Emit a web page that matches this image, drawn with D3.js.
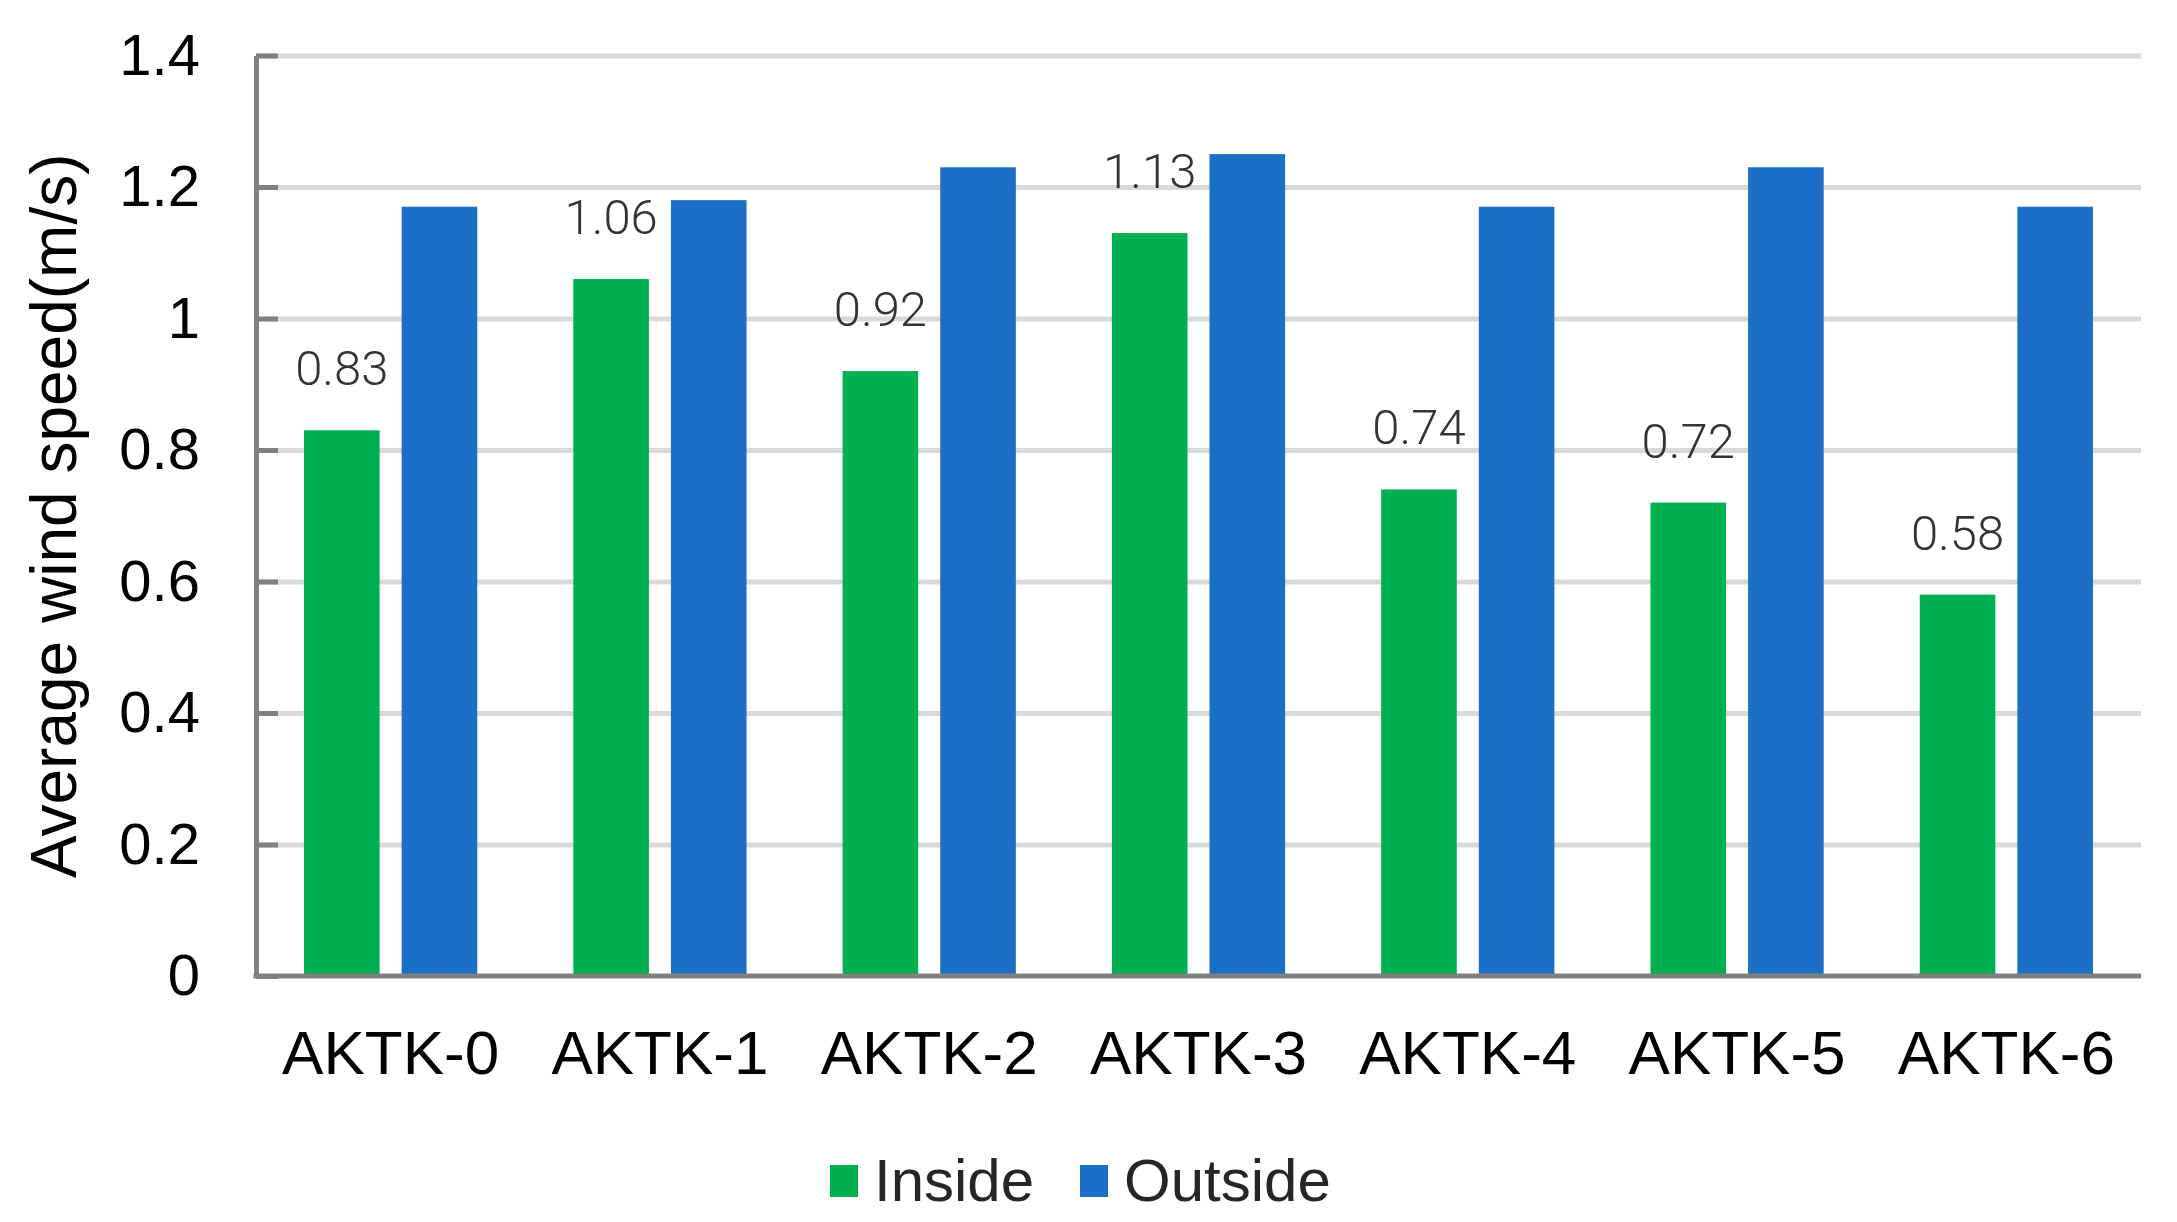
<!DOCTYPE html>
<html>
<head>
<meta charset="utf-8">
<script src="https://cdn.jsdelivr.net/npm/d3@7"></script>
<style>
  html, body { margin: 0; padding: 0; background: #fff; }
  svg { display: block; }
</style>
</head>
<body>
<svg id="chart" width="2177" height="1222"></svg>
<script>
const categories = ["AKTK-0", "AKTK-1", "AKTK-2", "AKTK-3", "AKTK-4", "AKTK-5", "AKTK-6"];
const seriesNames = ["Inside", "Outside"];
const insideValues = [0.83, 1.06, 0.92, 1.13, 0.74, 0.72, 0.58];
const outsideValues = [1.17, 1.18, 1.23, 1.25, 1.17, 1.23, 1.17];
const yTicks = [0, 0.2, 0.4, 0.6, 0.8, 1.0, 1.2, 1.4];
const yTickLabels = ["0", "0.2", "0.4", "0.6", "0.8", "1", "1.2", "1.4"];
const yTitle = "Average wind speed(m/s)";
const colors = { Inside: "#00b050", Outside: "#1c6fc6" };

(function () {
const svg = d3.select("#chart");
const pLeft = 256, pRight = 2141, pTop = 55.5, pBottom = 976;

const x0 = d3.scaleBand().domain(categories).range([pLeft, pRight]).padding(0);
const x1 = d3.scaleBand().domain(seriesNames).range([0, x0.bandwidth()])
  .paddingInner(0.2256).paddingOuter(0.492);
const y = d3.scaleLinear().domain([0, 1.4]).range([pBottom, pTop]);

// gridlines
const grid = svg.append("g").attr("transform", `translate(${pLeft},0)`)
  .call(d3.axisLeft(y).tickValues(yTicks.slice(1)).tickSize(-(pRight - pLeft)).tickFormat(""));
grid.select(".domain").remove();
grid.selectAll("line").attr("stroke", "#d9d9d9").attr("stroke-width", 5);

// bars
const data = categories.map((c, i) => ({ cat: c, values: [
  { key: "Inside", v: insideValues[i] },
  { key: "Outside", v: outsideValues[i] }
]}));

const groups = svg.append("g").selectAll("g").data(data).join("g")
  .attr("transform", d => `translate(${x0(d.cat)},0)`);
groups.selectAll("rect").data(d => d.values).join("rect")
  .attr("x", d => x1(d.key))
  .attr("y", d => y(d.v))
  .attr("width", x1.bandwidth())
  .attr("height", d => y(0) - y(d.v))
  .attr("fill", d => colors[d.key]);

// data labels for Inside series
groups.append("text")
  .attr("x", d => x1("Inside") + x1.bandwidth() / 2)
  .attr("y", d => y(d.values[0].v) - 45)
  .attr("text-anchor", "middle")
  .attr("font-family", "Roboto, 'Liberation Sans', sans-serif")
  .attr("font-weight", 300)
  .attr("font-size", 49)
  .attr("fill", "#333")
  .text(d => d3.format(".2f")(d.values[0].v));

// y axis line + inner tick stubs
const yAxisLine = svg.append("g").attr("transform", `translate(${pLeft},0)`)
  .call(d3.axisRight(y).tickValues(yTicks).tickSize(22).tickSizeOuter(0).tickFormat(""));
yAxisLine.selectAll("line, path").attr("stroke", "#808080").attr("stroke-width", 5);

// y tick labels
const yLab = svg.append("g").attr("transform", `translate(${pLeft},0)`)
  .call(d3.axisLeft(y).tickValues(yTicks).tickSize(0).tickPadding(56)
    .tickFormat((d, i) => yTickLabels[i]));
yLab.select(".domain").remove();
yLab.selectAll("text")
  .attr("font-family", "'Liberation Sans', Arial, sans-serif")
  .attr("font-size", 58)
  .attr("fill", "#000");

// x axis
const xAxis = svg.append("g").attr("transform", `translate(0,${pBottom})`)
  .call(d3.axisBottom(x0).tickSize(0).tickSizeOuter(0));
xAxis.select(".domain").attr("stroke", "#808080").attr("stroke-width", 5)
  .attr("d", `M${pLeft - 2.5},0H${pRight}`);
xAxis.selectAll("text")
  .attr("y", 98).attr("dy", 0)
  .attr("font-family", "'Liberation Sans', Arial, sans-serif")
  .attr("font-size", 62)
  .attr("fill", "#000");

// y title
svg.append("text")
  .attr("transform", `translate(76,${(pTop + pBottom) / 2}) rotate(-90)`)
  .attr("text-anchor", "middle")
  .attr("font-family", "'Liberation Sans', Arial, sans-serif")
  .attr("font-size", 64)
  .attr("fill", "#000")
  .text(yTitle);

// legend
const legendX = { Inside: 830, Outside: 1080 };
const legend = svg.append("g").selectAll("g").data(seriesNames).join("g")
  .attr("transform", d => `translate(${legendX[d]},0)`);
legend.append("rect")
  .attr("x", 0).attr("y", 1165).attr("width", 28).attr("height", 32)
  .attr("fill", d => colors[d]);
legend.append("text")
  .attr("x", 44).attr("y", 1201)
  .attr("font-family", "'Liberation Sans Narrow', 'Arial Narrow', 'Liberation Sans', sans-serif")
  .attr("font-size", 60)
  .attr("fill", "#262626")
  .text(d => d);
})();
</script>
</body>
</html>
